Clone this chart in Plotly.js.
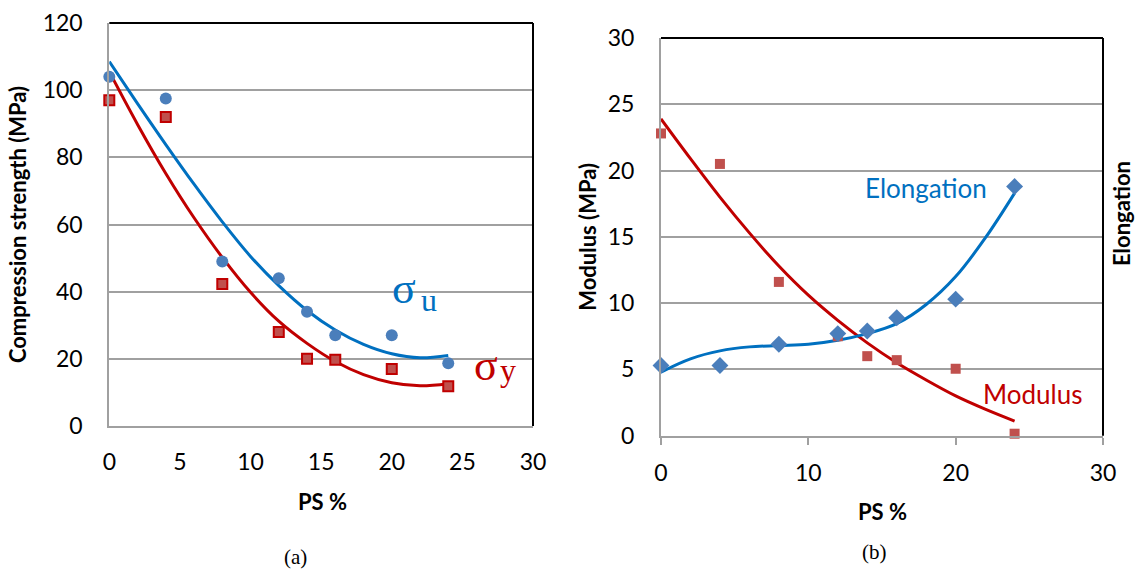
<!DOCTYPE html>
<html>
<head>
<meta charset="utf-8">
<script src="https://cdn.plot.ly/plotly-3.0.1.min.js"></script>
<style>
html,body{margin:0;padding:0;background:#fff;}
#chart{width:1146px;height:569px;}
</style>
</head>
<body>
<div id="chart"></div>
<script>
// ---- Data ----
// (a) compression strength
const psA = [0, 4, 8, 12, 14, 16, 20, 24];
const sigmaU = [104, 97.5, 49, 44, 34, 27, 27, 18.7];
const sigmaY = [97, 92, 42.3, 28, 20, 19.7, 17, 11.8];
// trend curves (a)
const fitXA = [0, 2, 4, 6, 8, 10, 12, 14, 16, 18, 20, 22, 24];
const fitU = [108.5, 96, 83.8, 72, 60.8, 50.5, 41.8, 34.4, 28.6, 24.3, 21.5, 20.3, 21.0];
const fitY = [105.5, 89.8, 75.2, 62, 50.2, 39.8, 31.2, 24.6, 19.2, 15.3, 12.9, 12.0, 12.6];

// (b) modulus & elongation
const psB = [0, 4, 8, 12, 14, 16, 20, 24];
const modulus = [22.8, 20.5, 11.6, 7.5, 6.0, 5.7, 5.05, 0.15];
const elongation = [5.3, 5.3, 6.9, 7.7, 7.9, 8.9, 10.3, 18.8];
const fitXB = [0, 2, 4, 6, 8, 10, 12, 14, 16, 18, 20, 22, 24];
const fitMod = [23.9, 20.9, 18.0, 15.3, 12.8, 10.6, 8.7, 7.0, 5.5, 4.2, 3.0, 2.0, 1.1];
const fitElong = [4.8, 5.8, 6.4, 6.7, 6.8, 6.9, 7.2, 7.7, 8.45, 9.9, 12.0, 14.9, 18.3];

// tick labels
const xTicksA = [0, 5, 10, 15, 20, 25, 30];
const yTicksA = [0, 20, 40, 60, 80, 100, 120];
const xTicksB = [0, 10, 20, 30];
const yTicksB = [0, 5, 10, 15, 20, 25, 30];

const SANS = 'Lato, "Open Sans", sans-serif';
const SERIF = '"Liberation Serif", "DejaVu Serif", serif';
const BLUE_LINE = '#0070C0', RED_LINE = '#C00000';
const BLUE_PT = '#4A7EBB', RED_PT = '#C0504D';
const GRID = '#A0A0A0';
const W = 1146, H = 569;
const px = v => v / W, py = v => 1 - v / H;

const traces = [
  {x: fitXA, y: fitU, mode: 'lines', line: {color: BLUE_LINE, width: 3, shape: 'spline', smoothing: 1}, xaxis: 'x', yaxis: 'y', hoverinfo: 'skip'},
  {x: fitXA, y: fitY, mode: 'lines', line: {color: RED_LINE, width: 3, shape: 'spline', smoothing: 1}, xaxis: 'x', yaxis: 'y', hoverinfo: 'skip'},
  {x: psA, y: sigmaU, mode: 'markers', marker: {symbol: 'circle', size: 12, color: BLUE_PT}, xaxis: 'x', yaxis: 'y', cliponaxis: false},
  {x: psA, y: sigmaY, mode: 'markers', marker: {symbol: 'square', size: 10, color: RED_PT, line: {color: RED_LINE, width: 2}}, xaxis: 'x', yaxis: 'y', cliponaxis: false},

  {x: fitXB, y: fitMod, mode: 'lines', line: {color: RED_LINE, width: 3, shape: 'spline', smoothing: 1}, xaxis: 'x2', yaxis: 'y2', hoverinfo: 'skip'},
  {x: fitXB, y: fitElong, mode: 'lines', line: {color: BLUE_LINE, width: 3, shape: 'spline', smoothing: 1}, xaxis: 'x2', yaxis: 'y2', hoverinfo: 'skip'},
  {x: psB, y: modulus, mode: 'markers', marker: {symbol: 'square', size: 10, color: RED_PT}, xaxis: 'x2', yaxis: 'y2', cliponaxis: false},
  {x: psB, y: elongation, mode: 'markers', marker: {symbol: 'diamond', size: 13, color: BLUE_PT}, xaxis: 'x2', yaxis: 'y2', cliponaxis: false}
];

const tickFont = {family: SANS, size: 23, color: '#000'};
const titleFont = {family: SANS, size: 22, color: '#000', weight: 'bold'};
const ann = (text, x, y, opts) => Object.assign({text: text, x: px(x), y: py(y), xref: 'paper', yref: 'paper', showarrow: false, xanchor: 'center', yanchor: 'middle'}, opts);

const layout = {
  width: W, height: H,
  margin: {l: 0, r: 0, t: 0, b: 0},
  paper_bgcolor: '#fff', plot_bgcolor: '#fff',
  showlegend: false,
  xaxis: {domain: [px(109.3), px(533)], range: [0, 30], tickvals: xTicksA, ticktext: xTicksA.map(String),
          showgrid: false, zeroline: false, showline: true, linecolor: GRID, linewidth: 2,
          ticks: '', ticklabelstandoff: 14, tickfont: tickFont, anchor: 'y', fixedrange: true},
  yaxis: {domain: [py(426), py(23)], range: [0, 120], tickvals: yTicksA, ticktext: yTicksA.map(String),
          showgrid: true, gridcolor: GRID, gridwidth: 2, zeroline: false, showline: true, linecolor: GRID, linewidth: 2,
          ticks: '', ticklabelstandoff: 20, tickfont: tickFont, anchor: 'x', fixedrange: true,
          title: {text: 'Compression strength (MPa)', font: titleFont, standoff: 10}},
  xaxis2: {domain: [px(661), px(1103)], range: [0, 30], tickvals: xTicksB, ticktext: xTicksB.map(String),
          showgrid: false, zeroline: false, showline: true, linecolor: GRID, linewidth: 2,
          ticks: 'outside', ticklen: 7, tickwidth: 2, tickcolor: GRID, ticklabelstandoff: 9, tickfont: tickFont, anchor: 'y2', fixedrange: true},
  yaxis2: {domain: [py(435.7), py(38)], range: [0, 30], tickvals: yTicksB, ticktext: yTicksB.map(String),
          showgrid: true, gridcolor: GRID, gridwidth: 2, zeroline: false, showline: true, linecolor: GRID, linewidth: 2,
          ticks: '', ticklabelstandoff: 20, tickfont: tickFont, anchor: 'x2', fixedrange: true,
          title: {text: 'Modulus (MPa)', font: titleFont, standoff: 5}},
  shapes: [
    {type: 'line', xref: 'x domain', yref: 'y domain', x0: 0, x1: 1, y0: 1, y1: 1, line: {color: '#000', width: 2}},
    {type: 'line', xref: 'x domain', yref: 'y domain', x0: 1, x1: 1, y0: 0, y1: 1, line: {color: '#000', width: 2}},
    {type: 'line', xref: 'x2 domain', yref: 'y2 domain', x0: 0, x1: 1, y0: 1, y1: 1, line: {color: '#000', width: 2}},
    {type: 'line', xref: 'x2 domain', yref: 'y2 domain', x0: 1, x1: 1, y0: 0, y1: 1, line: {color: '#000', width: 2}}
  ],
  annotations: [
    ann('<b>PS %</b>', 322, 501, {font: {family: SANS, size: 22, color: '#000'}}),
    ann('(a)', 295, 557, {font: {family: SERIF, size: 21, color: '#000'}}),
    ann('σ', 403.5, 288, {font: {family: SERIF, size: 44, color: BLUE_LINE}}),
    ann('u', 428.5, 300, {font: {family: SERIF, size: 32, color: BLUE_LINE}}),
    ann('σ', 485.5, 365, {font: {family: SERIF, size: 44, color: RED_LINE}}),
    ann('y', 507.5, 370, {font: {family: SERIF, size: 32, color: RED_LINE}}),

    ann('<b>Elongation</b>', 1122, 214, {textangle: -90, font: {family: SANS, size: 22, color: '#000'}}),
    ann('<b>PS %</b>', 882, 512, {font: {family: SANS, size: 22, color: '#000'}}),
    ann('(b)', 874, 552, {font: {family: SERIF, size: 21, color: '#000'}}),
    ann('Elongation', 925.5, 188, {font: {family: SANS, size: 26, color: BLUE_LINE}}),
    ann('Modulus', 1032.5, 394, {font: {family: SANS, size: 26, color: RED_LINE}})
  ]
};

Plotly.newPlot('chart', traces, layout, {displayModeBar: false, staticPlot: true});
</script>
</body>
</html>
